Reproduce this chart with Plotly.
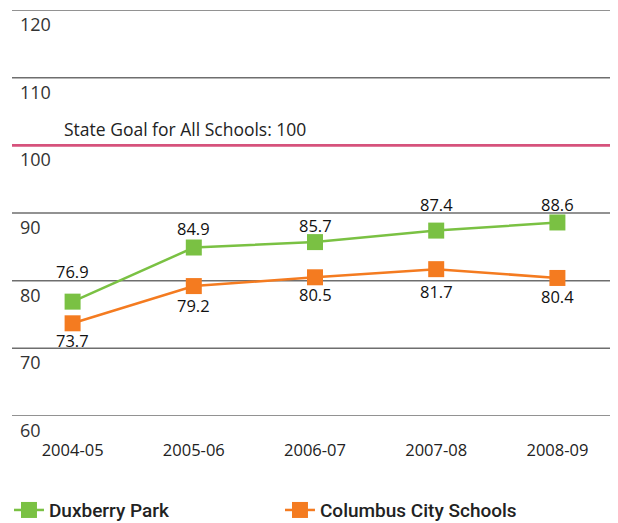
import plotly.graph_objects as go

years = ["2004-05", "2005-06", "2006-07", "2007-08", "2008-09"]
duxberry = [76.9, 84.9, 85.7, 87.4, 88.6]
columbus = [73.7, 79.2, 80.5, 81.7, 80.4]
y_ticks = [60, 70, 80, 90, 100, 110, 120]
goal_value = 100
goal_label = "State Goal for All Schools: 100"

# label offsets (px) to mimic placement
dux_shift = [30, 19, 17, 26, 18]
col_shift = [-17, -19, -17, -22, -19]

GREEN = "#7AC143"
ORANGE = "#F47B20"
PINK = "#D6527C"
GRID = "#6E6E6E"
FONT = "Open Sans"

fig = go.Figure()
fig.add_trace(go.Scatter(x=years, y=duxberry, mode="lines+markers", name="Duxberry Park",
                         line=dict(color=GREEN, width=2.5),
                         marker=dict(symbol="square", size=16, color=GREEN)))
fig.add_trace(go.Scatter(x=years, y=columbus, mode="lines+markers", name="Columbus City Schools",
                         line=dict(color=ORANGE, width=2.5),
                         marker=dict(symbol="square", size=16, color=ORANGE)))

annotations = []
for x, v, s in zip(years, duxberry, dux_shift):
    annotations.append(dict(x=x, y=v, text=f"{v}", showarrow=False, yshift=s,
                            font=dict(family=FONT, size=16.5, color="#111")))
for x, v, s in zip(years, columbus, col_shift):
    annotations.append(dict(x=x, y=v, text=f"{v}", showarrow=False, yshift=s,
                            font=dict(family=FONT, size=16.5, color="#111")))
for t in y_ticks:
    annotations.append(dict(xref="paper", x=0, y=t, text=str(t), showarrow=False,
                            xanchor="left", yanchor="top", xshift=6, yshift=0,
                            font=dict(family=FONT, size=18, color="#333")))
annotations.append(dict(xref="paper", x=0, y=goal_value, text=goal_label, showarrow=False,
                        xanchor="left", yanchor="bottom", xshift=50, yshift=2,
                        font=dict(family=FONT, size=17.5, color="#222")))

shapes = []
for t in y_ticks:
    if t == goal_value:
        continue
    shapes.append(dict(type="line", xref="paper", x0=0, x1=1, y0=t, y1=t,
                       line=dict(color=GRID, width=1.5), layer="below"))
shapes.append(dict(type="line", xref="paper", x0=0, x1=1, y0=goal_value, y1=goal_value,
                   line=dict(color=PINK, width=2.7), layer="above"))

fig.update_layout(
    width=610, height=515,
    margin=dict(l=4, r=0, t=2, b=107, autoexpand=False),
    paper_bgcolor="white", plot_bgcolor="white",
    font=dict(family=FONT, color="#222"),
    showlegend=True,
    legend=dict(orientation="h", x=-0.005, xanchor="left", y=-0.185, yanchor="top",
                entrywidth=226, entrywidthmode="pixels",
                font=dict(family="Roboto", size=19, color="#222", weight=500)),
    annotations=annotations,
    shapes=shapes,
)
fig.update_xaxes(type="category", range=[-0.5, 4.5], showgrid=False, showline=False,
                 ticks="", ticklabelstandoff=22, automargin=False,
                 tickfont=dict(family=FONT, size=16.5, color="#222"))
fig.update_yaxes(range=[60, 120], tickvals=y_ticks, showticklabels=False, automargin=False,
                 showgrid=False, zeroline=False, showline=False)

fig.write_html("out.html")
